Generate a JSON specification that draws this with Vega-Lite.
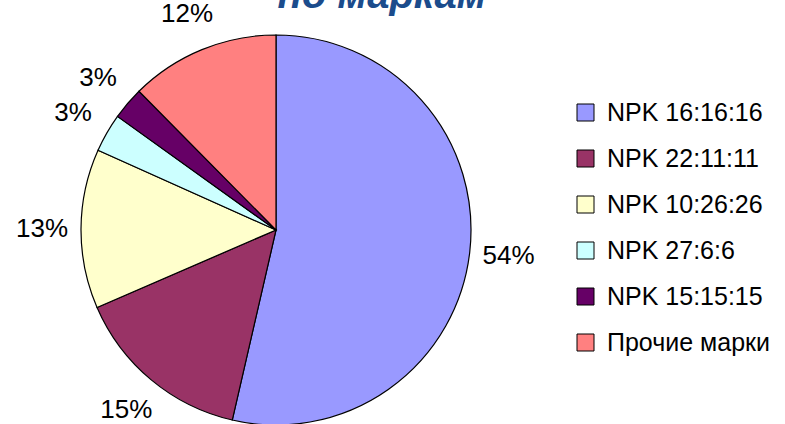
{
  "$schema": "https://vega.github.io/schema/vega-lite/v6.json",
  "autosize": {"type": "none"},
  "width": 552,
  "height": 380,
  "padding": {"left": 0, "top": 40, "right": 233, "bottom": 4},
  "background": "white",
  "title": {
    "text": "по маркам",
    "font": "Liberation Sans",
    "fontSize": 40,
    "fontWeight": "bold",
    "fontStyle": "italic",
    "color": "#1B4C8C",
    "anchor": "middle",
    "frame": "group",
    "dx": 106,
    "dy": 47,
    "baseline": "alphabetic",
    "offset": 0
  },
  "data": {
    "values": [
      {"brand": "NPK 16:16:16", "share": 0.536, "ord": 1},
      {"brand": "NPK 22:11:11", "share": 0.149, "ord": 2},
      {"brand": "NPK 10:26:26", "share": 0.132, "ord": 3},
      {"brand": "NPK 27:6:6", "share": 0.032, "ord": 4},
      {"brand": "NPK 15:15:15", "share": 0.027, "ord": 5},
      {"brand": "Прочие марки", "share": 0.124, "ord": 6}
    ]
  },
  "encoding": {
    "theta": {"field": "share", "type": "quantitative", "stack": true},
    "order": {"field": "ord", "type": "quantitative"}
  },
  "layer": [
    {
      "mark": {"type": "arc", "outerRadius": 195, "stroke": "black", "strokeWidth": 1.2},
      "encoding": {
        "color": {
          "field": "brand",
          "type": "nominal",
          "scale": {
            "domain": ["NPK 16:16:16", "NPK 22:11:11", "NPK 10:26:26", "NPK 27:6:6", "NPK 15:15:15", "Прочие марки"],
            "range": ["#9999FF", "#993366", "#FFFFCC", "#CCFFFF", "#660066", "#FF8080"]
          },
          "legend": {
            "orient": "none",
            "legendX": 573,
            "legendY": 60,
            "title": null,
            "symbolType": "square",
            "symbolSize": 289,
            "symbolStrokeColor": "black",
            "symbolStrokeWidth": 1,
            "symbolOpacity": 1,
            "labelFont": "Liberation Sans",
            "labelFontSize": 25,
            "labelColor": "black",
            "rowPadding": 20,
            "labelOffset": 9,
            "labelLimit": 300
          }
        }
      }
    },
    {
      "mark": {"type": "text", "radius": 234, "font": "Liberation Sans", "fontSize": 26, "color": "black"},
      "encoding": {
        "text": {"field": "share", "type": "quantitative", "format": ".0%"}
      }
    }
  ],
  "config": {"view": {"stroke": null}}
}
